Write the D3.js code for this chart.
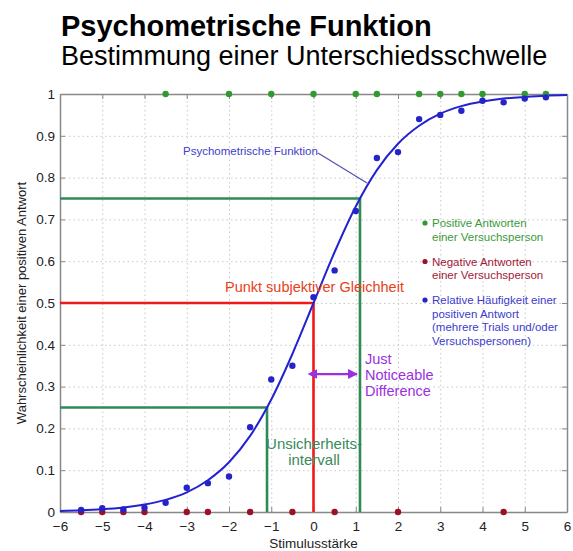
<!DOCTYPE html>
<html>
<head>
<meta charset="utf-8">
<script src="https://cdn.jsdelivr.net/npm/d3@7"></script>
<style>
  body { margin: 0; background: #fff; }
  text { font-family: "Liberation Sans", Arial, sans-serif; }
</style>
</head>
<body>
<script>
// data
const stimulus = [-5.5, -5, -4.5, -4, -3.5, -3, -2.5, -2, -1.5, -1, -0.5, 0,
                  0.5, 1, 1.5, 2, 2.5, 3, 3.5, 4, 4.5, 5, 5.5];
const relFreq = [0.005, 0.009, 0.006, 0.01, 0.022, 0.058, 0.069, 0.085, 0.203, 0.317, 0.35, 0.514,
                 0.578, 0.72, 0.847, 0.861, 0.94, 0.95, 0.96, 0.984, 0.98, 0.989, 0.992];
const positiveX = [-3.5, -2, -1, 0, 1, 1.5, 2.5, 3, 3.5, 4, 5, 5.5];
const negativeX = [-5.5, -5, -4.5, -4, -3, -2.5, -1.5, -0.5, 0.5, 2, 4.5];

const curveX = [-6, -5.5, -5, -4.5, -4, -3.5, -3, -2.5, -2, -1.5, -1, -0.5, 0,
                0.5, 1, 1.5, 2, 2.5, 3, 3.5, 4, 4.5, 5, 5.5, 6];
const curveY = [0.0025, 0.004, 0.0067, 0.011, 0.018, 0.029, 0.047, 0.076, 0.119, 0.182, 0.269, 0.378, 0.5,
                0.622, 0.731, 0.818, 0.881, 0.924, 0.953, 0.971, 0.982, 0.989, 0.993, 0.996, 0.9975];

const thresholdX = [-1.1, 0, 1.1];
const thresholdY = [0.25, 0.5, 0.75];

const xTicks = d3.range(-6, 7, 1);
const yTicks = d3.range(0, 11, 1).map(d => d / 10);

const legendLines = [
  { text: ['Positive Antworten', 'einer Versuchsperson'], color: '#3a9a3a', dot: '#2f9a2f' },
  { text: ['Negative Antworten', 'einer Versuchsperson'], color: '#a3183a', dot: '#9c1028' },
  { text: ['Relative Häufigkeit einer', 'positiven Antwort', '(mehrere Trials und/oder', 'Versuchspersonen)'], color: '#3c3ccc', dot: '#2424c8' }
];

const SCREEN = { width: 573, height: 551, left: 60, right: 6, top: 94, bottom: 39 };
SCREEN.innerWidth = SCREEN.width - SCREEN.left - SCREEN.right;
SCREEN.innerHeight = SCREEN.height - SCREEN.top - SCREEN.bottom;

const svg = d3.select('body').append('svg')
    .attr('width', SCREEN.width)
    .attr('height', SCREEN.height);

// titles
svg.append('text')
    .attr('x', 61).attr('y', 36)
    .style('font-size', '29px').style('font-weight', 'bold')
    .text('Psychometrische Funktion');
svg.append('text')
    .attr('x', 61).attr('y', 65)
    .style('font-size', '27px')
    .text('Bestimmung einer Unterschiedsschwelle');

const x = d3.scaleLinear().domain([-6, 6]).range([0, SCREEN.innerWidth]);
const y = d3.scaleLinear().domain([0, 1]).range([SCREEN.innerHeight, 0]);

const canvas = svg.append('g')
    .attr('transform', `translate(${SCREEN.left},${SCREEN.top})`);

// dotted grid
canvas.append('g')
    .attr('transform', `translate(0,${SCREEN.innerHeight})`)
    .call(d3.axisBottom(x).tickValues(xTicks).tickSize(-SCREEN.innerHeight).tickFormat(''))
    .call(g => g.select('.domain').remove())
    .selectAll('line').attr('stroke', '#c8c8c8').attr('stroke-dasharray', '1.5,3');
canvas.append('g')
    .call(d3.axisLeft(y).tickValues(yTicks).tickSize(-SCREEN.innerWidth).tickFormat(''))
    .call(g => g.select('.domain').remove())
    .selectAll('line').attr('stroke', '#c8c8c8').attr('stroke-dasharray', '1.5,3');

// frame axes with inner ticks
const axisStyle = g => {
  g.select('.domain').attr('stroke', '#888').attr('stroke-width', 1.5);
  g.selectAll('.tick line').attr('stroke', '#888');
  g.selectAll('.tick text').attr('fill', '#222').style('font-size', '13.5px')
      .style('font-family', '"Liberation Sans", Arial, sans-serif');
};
canvas.append('g')
    .attr('transform', `translate(0,${SCREEN.innerHeight})`)
    .call(d3.axisBottom(x).tickValues(xTicks).tickSizeInner(-5).tickSizeOuter(0).tickPadding(9)
      .tickFormat(d => d < 0 ? '\u2212' + Math.abs(d) : d))
    .call(axisStyle);
canvas.append('g')
    .call(d3.axisLeft(y).tickValues(yTicks).tickSizeInner(-5).tickSizeOuter(0).tickPadding(5)
      .tickFormat(d => d === 0 || d === 1 ? d : d3.format('.1f')(d)))
    .call(axisStyle);
canvas.append('g')
    .call(d3.axisTop(x).tickValues(xTicks).tickSizeInner(-5).tickSizeOuter(0).tickFormat(''))
    .call(axisStyle);
canvas.append('g')
    .attr('transform', `translate(${SCREEN.innerWidth},0)`)
    .call(d3.axisRight(y).tickValues(yTicks).tickSizeInner(-5).tickSizeOuter(0).tickFormat(''))
    .call(axisStyle);

// axis labels
svg.append('text')
    .attr('x', SCREEN.left + x(0)).attr('y', 548)
    .attr('text-anchor', 'middle')
    .style('font-size', '13.5px').attr('fill', '#222')
    .text('Stimulusstärke');
svg.append('text')
    .attr('transform', `translate(26,${SCREEN.top + SCREEN.innerHeight / 2}) rotate(-90)`)
    .attr('text-anchor', 'middle')
    .style('font-size', '13px').attr('fill', '#222')
    .text('Wahrscheinlichkeit einer positiven Antwort');

// threshold lines
const green = '#2f8a55', red = '#f01818';
const thresholdColor = [green, red, green];
thresholdX.forEach((tx, i) => {
  canvas.append('path')
      .attr('d', d3.line()([[x(-6), y(thresholdY[i])], [x(tx), y(thresholdY[i])], [x(tx), y(0)]]))
      .attr('fill', 'none')
      .attr('stroke', thresholdColor[i])
      .attr('stroke-width', 2.6);
});

// psychometric curve
canvas.append('path')
    .datum(curveX.map((d, i) => [d, curveY[i]]))
    .attr('fill', 'none')
    .attr('stroke', '#2222d0')
    .attr('stroke-width', 2)
    .attr('d', d3.line().x(d => x(d[0])).y(d => y(d[1])).curve(d3.curveMonotoneX));

// dots
canvas.selectAll('.pos').data(positiveX).join('circle')
    .attr('cx', d => x(d)).attr('cy', y(1)).attr('r', 3.2).attr('fill', '#2f9a2f');
canvas.selectAll('.neg').data(negativeX).join('circle')
    .attr('cx', d => x(d)).attr('cy', y(0)).attr('r', 3.2).attr('fill', '#9c1028');
canvas.selectAll('.rel').data(stimulus).join('circle')
    .attr('cx', d => x(d)).attr('cy', (d, i) => y(relFreq[i])).attr('r', 3.2).attr('fill', '#2424c8');

// annotation: Psychometrische Funktion
svg.append('text')
    .attr('x', 183).attr('y', 155)
    .style('font-size', '11.5px').attr('fill', '#4040cc')
    .text('Psychometrische Funktion');
svg.append('line')
    .attr('x1', 318).attr('y1', 153).attr('x2', 367).attr('y2', 183)
    .attr('stroke', '#5050b0').attr('stroke-width', 1.2);

// Punkt subjektiver Gleichheit
svg.append('text')
    .attr('x', 225).attr('y', 292)
    .style('font-size', '14.5px').attr('fill', '#e8401a')
    .text('Punkt subjektiver Gleichheit');

// JND arrow
const purple = '#9a30e0';
const defs = svg.append('defs');
['a-start', 'a-end'].forEach((id, i) => {
  defs.append('marker').attr('id', id)
      .attr('viewBox', '0 0 10 10').attr('refX', i ? 9 : 1).attr('refY', 5)
      .attr('markerWidth', 4.5).attr('markerHeight', 4.5).attr('orient', 'auto-start-reverse')
      .append('path').attr('d', 'M0,0L10,5L0,10z').attr('fill', purple);
});
canvas.append('line')
    .attr('x1', x(thresholdX[1]) + 3).attr('x2', x(thresholdX[2]) - 3)
    .attr('y1', y(0.33)).attr('y2', y(0.33))
    .attr('stroke', purple).attr('stroke-width', 2.2)
    .attr('marker-start', 'url(#a-start)').attr('marker-end', 'url(#a-end)');
['Just', 'Noticeable', 'Difference'].forEach((t, i) => {
  svg.append('text')
      .attr('x', 365).attr('y', 364 + i * 16)
      .style('font-size', '14.5px').attr('fill', purple)
      .text(t);
});

// Unsicherheitsintervall
['Unsicherheits-', 'intervall'].forEach((t, i) => {
  svg.append('text')
      .attr('x', 314).attr('y', 449 + i * 16)
      .attr('text-anchor', 'middle')
      .style('font-size', '15px').attr('fill', '#3a8a5a')
      .text(t);
});

// legend
let ly = 227;
legendLines.forEach(item => {
  svg.append('circle').attr('cx', 425).attr('cy', ly - 4).attr('r', 2.6).attr('fill', item.dot);
  item.text.forEach((t, i) => {
    svg.append('text')
        .attr('x', 432).attr('y', ly + i * 13.5)
        .style('font-size', '11.5px').attr('fill', item.color)
        .text(t);
  });
  ly += item.text.length * 13.5 + 11.5;
});
</script>
</body>
</html>
